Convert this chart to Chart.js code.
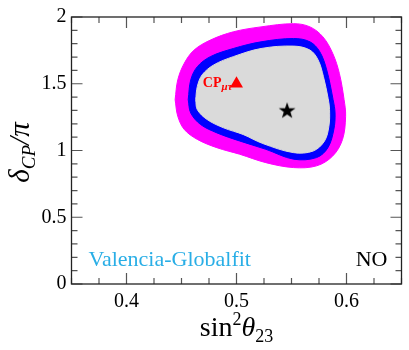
<!DOCTYPE html>
<html><head><meta charset="utf-8">
<script src="https://cdn.jsdelivr.net/npm/chart.js@4.4.0/dist/chart.umd.min.js"></script>
<style>html,body{margin:0;padding:0;background:#fff;} #wrap{width:409px;height:350px;}</style>
</head><body><div id="wrap"><canvas id="c" width="409" height="350"></canvas></div>
<script>
// ---- data ----
const xTicks = [0.4, 0.5, 0.6];
const yTicks = [0, 0.5, 1, 1.5, 2];
const xRange = [0.35, 0.65];
const yRange = [0, 2];

// outer (magenta) contour
const outerX = [0.4442,0.4466,0.4525,0.4614,0.4762,0.4971,0.5223,0.5519,0.5668,0.5786,0.5875,0.5935,0.5978,0.5992,0.5964,0.5875,0.5728,0.5519,0.5267,0.5029,0.4822,0.4644,0.4525,0.4466];
const outerY = [1.381,1.529,1.653,1.752,1.827,1.889,1.926,1.950,1.926,1.851,1.727,1.578,1.381,1.257,1.083,0.959,0.885,0.872,0.909,0.972,1.021,1.083,1.158,1.257];
// middle (blue) contour
const midX = [0.4561,0.4584,0.4644,0.4762,0.4971,0.5223,0.5519,0.5668,0.5757,0.5820,0.5878,0.5896,0.5885,0.5831,0.5728,0.5519,0.5267,0.5029,0.4822,0.4673,0.4584];
const midY = [1.381,1.529,1.628,1.703,1.764,1.814,1.839,1.814,1.740,1.604,1.381,1.281,1.158,1.021,0.947,0.935,1.009,1.071,1.132,1.195,1.281];
// inner (gray) contour
const innerX = [0.4629,0.4644,0.4688,0.4793,0.4971,0.5223,0.5519,0.5668,0.5742,0.5790,0.5833,0.5846,0.5840,0.5800,0.5697,0.5519,0.5240,0.5060,0.4882,0.4733,0.4644];
const innerY = [1.381,1.480,1.567,1.641,1.703,1.764,1.782,1.752,1.678,1.554,1.390,1.306,1.182,1.071,0.996,0.984,1.052,1.120,1.170,1.232,1.306];

const bestFitX = [0.546];
const bestFitY = [1.30];
const cpMuTauX = [0.5];
const cpMuTauY = [1.5];

const SERIF = '"Liberation Serif", "DejaVu Serif", serif';

function closedPts(xs, ys) {
  const p = xs.map((x, i) => ({x: x, y: ys[i]}));
  p.push({x: xs[0], y: ys[0]});
  return p;
}
function pts(xs, ys) { return xs.map((x, i) => ({x: x, y: ys[i]})); }

// filled star image for the best fit point
const starImg = document.createElement('canvas');
starImg.width = 20; starImg.height = 20;
(function () {
  const g = starImg.getContext('2d');
  const cx = 10, cy = 10.5, R = 8.8, r = 3.5;
  g.beginPath();
  for (let i = 0; i < 10; i++) {
    const a = -Math.PI / 2 + i * Math.PI / 5;
    const rr = i % 2 === 0 ? R : r;
    const px = cx + rr * Math.cos(a), py = cy + rr * Math.sin(a);
    if (i === 0) g.moveTo(px, py); else g.lineTo(px, py);
  }
  g.closePath();
  g.fillStyle = '#000';
  g.fill();
})();

function drawRich(ctx, segs, x, y, align) {
  let w = 0;
  segs.forEach(s => { ctx.font = s.font; w += ctx.measureText(s.t).width; });
  let cx = align === 'center' ? x - w / 2 : (align === 'right' ? x - w : x);
  ctx.textAlign = 'left';
  ctx.textBaseline = 'alphabetic';
  segs.forEach(s => {
    ctx.font = s.font;
    ctx.fillText(s.t, cx, y + (s.dy || 0));
    cx += ctx.measureText(s.t).width;
  });
}

const framePlugin = {
  id: 'frame',
  afterDatasetsDraw(chart) {
    const ctx = chart.ctx, a = chart.chartArea;
    const xs = chart.scales.x, ys = chart.scales.y;
    ctx.save();
    // ticks (inward, all four sides)
    ctx.strokeStyle = '#555';
    ctx.lineWidth = 1.2;
    ctx.beginPath();
    for (let k = 0; k <= 12; k++) {
      const v = xRange[0] + k * 0.025;
      const major = xTicks.some(t => Math.abs(t - v) < 1e-6);
      const L = major ? 11 : 6;
      const px = xs.getPixelForValue(v);
      ctx.moveTo(px, a.bottom); ctx.lineTo(px, a.bottom - L);
      ctx.moveTo(px, a.top); ctx.lineTo(px, a.top + L);
    }
    for (let k = 0; k <= 20; k++) {
      const v = yRange[0] + k * 0.1;
      const major = yTicks.some(t => Math.abs(t - v) < 1e-6);
      const L = major ? 11 : 6;
      const py = ys.getPixelForValue(v);
      ctx.moveTo(a.left, py); ctx.lineTo(a.left + L, py);
      ctx.moveTo(a.right, py); ctx.lineTo(a.right - L, py);
    }
    ctx.stroke();
    // frame
    ctx.strokeStyle = '#222';
    ctx.lineWidth = 1.3;
    ctx.strokeRect(a.left, a.top, a.right - a.left, a.bottom - a.top);

    // in-plot texts
    ctx.fillStyle = '#29aee6';
    ctx.font = '22px ' + SERIF;
    ctx.textAlign = 'left';
    ctx.textBaseline = 'alphabetic';
    ctx.fillText('Valencia-Globalfit', a.left + 17, a.bottom - 18);
    ctx.fillStyle = '#000';
    ctx.textAlign = 'right';
    ctx.fillText('NO', a.right - 14, a.bottom - 18);

    // CP_mu tau label next to the triangle
    const tx = xs.getPixelForValue(cpMuTauX[0]);
    const ty = ys.getPixelForValue(cpMuTauY[0]);
    ctx.fillStyle = '#ff0000';
    drawRich(ctx, [
      {t: 'CP', font: 'bold 14px ' + SERIF},
      {t: 'μτ', font: 'italic bold 11px ' + SERIF, dy: 3}
    ], tx - 4, ty + 3, 'right');

    // axis titles
    ctx.fillStyle = '#000';
    drawRich(ctx, [
      {t: 'sin', font: '28px ' + SERIF},
      {t: '2', font: '18px ' + SERIF, dy: -11},
      {t: 'θ', font: 'italic 28px ' + SERIF},
      {t: '23', font: '18px ' + SERIF, dy: 6}
    ], (a.left + a.right) / 2, a.bottom + 52, 'center');

    ctx.save();
    ctx.translate(29, (a.top + a.bottom) / 2 + 2);
    ctx.rotate(-Math.PI / 2);
    drawRich(ctx, [
      {t: 'δ', font: 'italic 29px ' + SERIF},
      {t: 'CP', font: 'italic 19px ' + SERIF, dy: 6},
      {t: '/π', font: 'italic 29px ' + SERIF}
    ], 0, 0, 'center');
    ctx.restore();
    ctx.restore();
  }
};

new Chart(document.getElementById('c'), {
  type: 'scatter',
  data: {
    datasets: [
      {label: 'outer', data: closedPts(outerX, outerY), showLine: true, tension: 0.35,
       fill: 'shape', backgroundColor: '#ff00ff', borderColor: '#ff00ff', borderWidth: 1,
       pointRadius: 0, order: 5},
      {label: 'mid', data: closedPts(midX, midY), showLine: true, tension: 0.35,
       fill: 'shape', backgroundColor: '#0000ff', borderColor: '#0000ff', borderWidth: 1,
       pointRadius: 0, order: 4},
      {label: 'inner', data: closedPts(innerX, innerY), showLine: true, tension: 0.35,
       fill: 'shape', backgroundColor: '#dadada', borderColor: '#dadada', borderWidth: 1,
       pointRadius: 0, order: 3},
      {label: 'CPmutau', data: pts(cpMuTauX, cpMuTauY), pointStyle: 'triangle', pointRadius: 7.5,
       backgroundColor: '#ff0000', borderColor: '#ff0000', borderWidth: 0, order: 2},
      {label: 'bestfit', data: pts(bestFitX, bestFitY), pointStyle: starImg,
       order: 1}
    ]
  },
  options: {
    responsive: false,
    animation: false,
    devicePixelRatio: 1,
    layout: {padding: {top: 15, right: 3, left: 0, bottom: 0}},
    plugins: {legend: {display: false}, tooltip: {enabled: false}},
    scales: {
      x: {
        type: 'linear', min: xRange[0], max: xRange[1],
        afterBuildTicks: s => { s.ticks = xTicks.map(v => ({value: v})); },
        afterFit: s => { s.height = 66; },
        grid: {display: false, drawTicks: false},
        border: {display: false},
        ticks: {font: {family: SERIF, size: 20}, color: '#000', padding: 6,
                callback: v => String(v)}
      },
      y: {
        type: 'linear', min: yRange[0], max: yRange[1],
        afterBuildTicks: s => { s.ticks = yTicks.map(v => ({value: v})); },
        afterFit: s => { s.width = 71.5; },
        grid: {display: false, drawTicks: false},
        border: {display: false},
        ticks: {font: {family: SERIF, size: 20}, color: '#000', padding: 5,
                callback: v => String(v)}
      }
    }
  },
  plugins: [framePlugin]
});
</script>
</body></html>
